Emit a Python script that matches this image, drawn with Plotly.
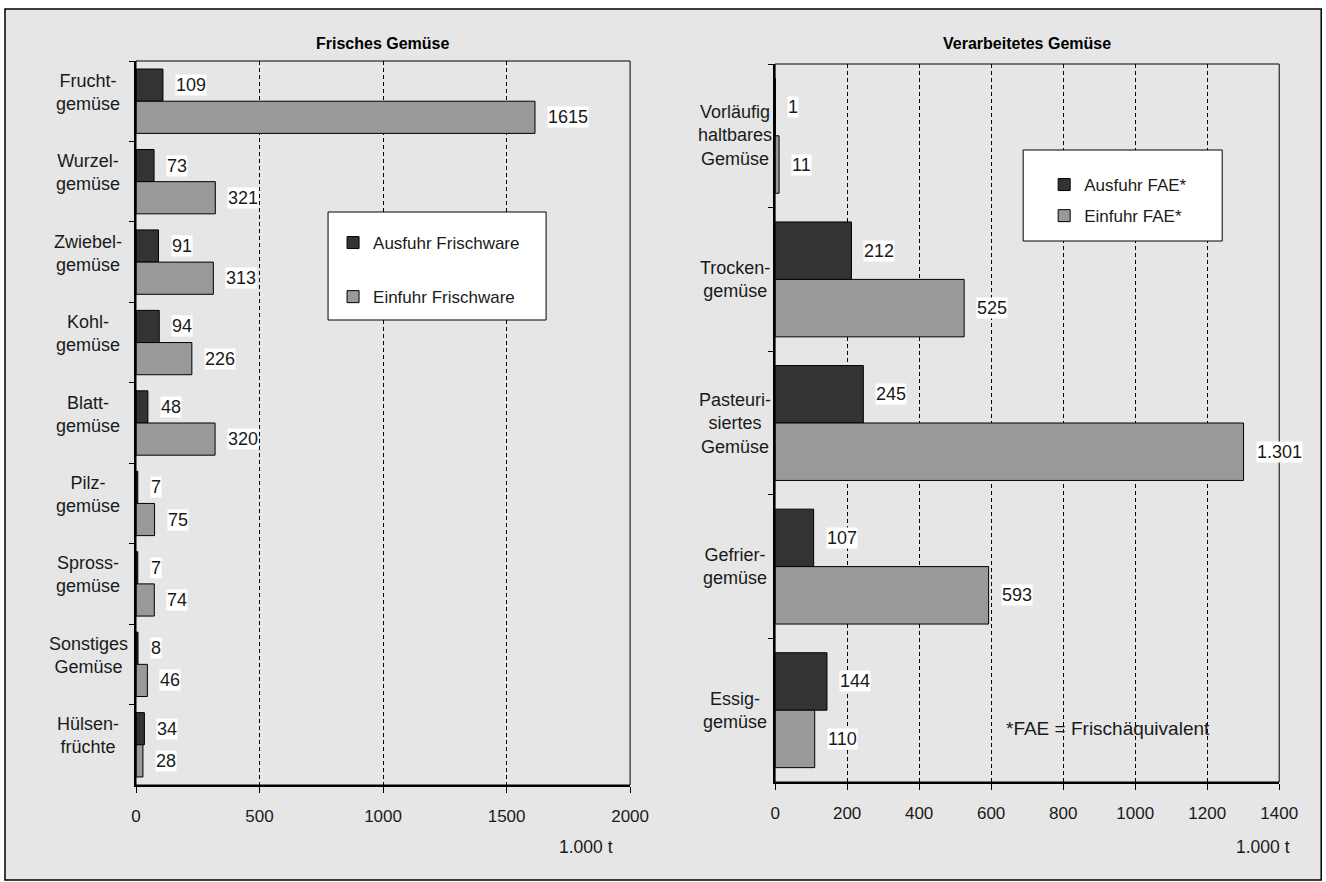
import plotly.graph_objects as go

# --- data -------------------------------------------------------------
fresh_categories = ["Fruchtgemüse", "Wurzelgemüse", "Zwiebelgemüse", "Kohlgemüse",
                    "Blattgemüse", "Pilzgemüse", "Sprossgemüse", "Sonstiges Gemüse",
                    "Hülsenfrüchte"]
fresh_labels = ["Frucht-<br>gemüse", "Wurzel-<br>gemüse", "Zwiebel-<br>gemüse", "Kohl-<br>gemüse",
                "Blatt-<br>gemüse", "Pilz-<br>gemüse", "Spross-<br>gemüse", "Sonstiges<br>Gemüse",
                "Hülsen-<br>früchte"]
fresh_export = [109, 73, 91, 94, 48, 7, 7, 8, 34]
fresh_import = [1615, 321, 313, 226, 320, 75, 74, 46, 28]

proc_categories = ["Vorläufig haltbares Gemüse", "Trockengemüse", "Pasteurisiertes Gemüse",
                   "Gefriergemüse", "Essiggemüse"]
proc_labels = ["Vorläufig<br>haltbares<br>Gemüse", "Trocken-<br>gemüse", "Pasteuri-<br>siertes<br>Gemüse",
               "Gefrier-<br>gemüse", "Essig-<br>gemüse"]
proc_export = [1, 212, 245, 107, 144]
proc_import = [11, 525, 1301, 593, 110]

fresh_ticks = [0, 500, 1000, 1500, 2000]
proc_ticks = [0, 200, 400, 600, 800, 1000, 1200, 1400]

# --- page geometry ----------------------------------------------------
FIG_W, FIG_H = 1345, 882
GUIDE_X0, GUIDE_SX = 5.0, 0.982   # horizontal layout guide -> figure pixels
FONT = "Liberation Sans, Arial, sans-serif"
DARK, LIGHT = "#333333", "#999999"
BG = "#e6e6e6"
TXT = "#1a1a1a"


def px(x):
    """Horizontal guide position -> paper fraction."""
    return (x - GUIDE_X0) / GUIDE_SX / FIG_W


def py(y):
    """Vertical pixel position (from top) -> paper fraction."""
    return 1 - y / FIG_H


fig = go.Figure()

bar_line = dict(color="black", width=1)
fig.add_trace(go.Bar(y=fresh_categories, x=fresh_export, orientation="h", name="Ausfuhr Frischware",
                     marker=dict(color=DARK, line=bar_line), xaxis="x", yaxis="y",
                     legend="legend", legendgroup="a"))
fig.add_trace(go.Bar(y=fresh_categories, x=fresh_import, orientation="h", name="Einfuhr Frischware",
                     marker=dict(color=LIGHT, line=bar_line), xaxis="x", yaxis="y",
                     legend="legend", legendgroup="b"))
fig.add_trace(go.Bar(y=proc_categories, x=proc_export, orientation="h", name="Ausfuhr FAE*",
                     marker=dict(color=DARK, line=bar_line), xaxis="x2", yaxis="y2",
                     legend="legend2", legendgroup="c"))
fig.add_trace(go.Bar(y=proc_categories, x=proc_import, orientation="h", name="Einfuhr FAE*",
                     marker=dict(color=LIGHT, line=bar_line), xaxis="x2", yaxis="y2",
                     legend="legend2", legendgroup="d"))

xaxis_common = dict(showgrid=True, gridcolor="black", gridwidth=1, griddash="4px,3px",
                    zeroline=False, showline=True, linecolor="black", linewidth=2,
                    ticks="outside", ticklen=6, tickwidth=1, tickcolor="black",
                    tickfont=dict(family=FONT, size=17, color=TXT), ticklabelstandoff=9,
                    fixedrange=True)
yaxis_common = dict(type="category", autorange=False, showgrid=False, zeroline=False,
                    showline=True, linecolor="black", linewidth=2, ticks="outside",
                    ticklen=5, tickwidth=1, tickcolor="black", tickson="boundaries",
                    showticklabels=False, fixedrange=True)

fig.update_layout(
    width=FIG_W, height=FIG_H, autosize=False, margin=dict(l=0, r=0, t=0, b=0, pad=0),
    paper_bgcolor="white", plot_bgcolor="white",
    barmode="group", bargap=0.2, bargroupgap=0,
    font=dict(family=FONT, size=17, color=TXT),
    xaxis=dict(domain=[px(136), px(630)], range=[0, 2000], tickvals=fresh_ticks,
               anchor="y", **xaxis_common),
    yaxis=dict(domain=[py(785), py(61)], range=[len(fresh_categories) - 0.5, -0.5],
               anchor="x", **yaxis_common),
    xaxis2=dict(domain=[px(775), px(1279)], range=[0, 1400], tickvals=proc_ticks,
                anchor="y2", **xaxis_common),
    yaxis2=dict(domain=[py(782), py(64)], range=[len(proc_categories) - 0.5, -0.5],
                anchor="x2", **yaxis_common),
    legend=dict(x=px(333), y=py(225), xanchor="left", yanchor="top", bgcolor="rgba(0,0,0,0)",
                borderwidth=0, font=dict(family=FONT, size=17, color=TXT),
                tracegroupgap=29, traceorder="grouped", itemclick=False, itemdoubleclick=False),
    legend2=dict(x=px(1044), y=py(167), xanchor="left", yanchor="top", bgcolor="rgba(0,0,0,0)",
                 borderwidth=0, font=dict(family=FONT, size=17, color=TXT),
                 tracegroupgap=6, traceorder="grouped", itemclick=False, itemdoubleclick=False),
)

shapes = [
    # outer panel
    dict(type="rect", xref="paper", yref="paper", x0=px(5), x1=px(1321), y0=py(880), y1=py(9),
         fillcolor=BG, line=dict(color="black", width=1.5), layer="below"),
    # plot frames (top/right borders)
    dict(type="rect", xref="x domain", yref="y domain", x0=0, x1=1, y0=0, y1=1,
         line=dict(color="black", width=1), layer="above"),
    dict(type="rect", xref="x2 domain", yref="y2 domain", x0=0, x1=1, y0=0, y1=1,
         line=dict(color="black", width=1), layer="above"),
    # legend boxes
    dict(type="rect", xref="paper", yref="paper", x0=px(328), x1=px(546), y0=py(320), y1=py(212),
         fillcolor="white", line=dict(color="black", width=1), layer="above"),
    dict(type="rect", xref="paper", yref="paper", x0=px(1023), x1=px(1222), y0=py(241), y1=py(150),
         fillcolor="white", line=dict(color="black", width=1), layer="above"),
]
fig.update_layout(shapes=shapes)

ann = []
LBL = dict(family=FONT, size=18, color=TXT)


def paper_text(text, x, y, size, color=TXT):
    return dict(text=text, xref="paper", yref="paper", x=px(x), y=py(y), xanchor="center",
                yanchor="middle", showarrow=False, font=dict(family=FONT, size=size, color=color))


# panel titles
ann.append(paper_text("<b>Frisches Gemüse</b>", 383, 43, 16, "black"))
ann.append(paper_text("<b>Verarbeitetes Gemüse</b>", 1027, 43, 16, "black"))

# unit labels
ann.append(paper_text("1.000 t", 586, 847, 17.5))
ann.append(paper_text("1.000 t", 1263, 847, 17.5))

# footnote
ann.append(paper_text("*FAE = Frischäquivalent", 1108, 728, 19))

# category labels
for cat, lab in zip(fresh_categories, fresh_labels):
    ann.append(dict(text=lab, xref="paper", yref="y", x=px(88), y=cat, showarrow=False,
                    align="center", xanchor="center", yanchor="middle", yshift=9, font=LBL))
for cat, lab in zip(proc_categories, proc_labels):
    ann.append(dict(text=lab, xref="paper", yref="y2", x=px(735), y=cat, showarrow=False,
                    align="center", xanchor="center", yanchor="middle", font=LBL))


def value_labels(exports, imports, xref, yref, fmt):
    out = []
    for i, (e, m) in enumerate(zip(exports, imports)):
        for v, off in ((e, -0.2), (m, 0.2)):
            out.append(dict(text=fmt(v), xref=xref, yref=yref, x=v, y=i + off, showarrow=False,
                            xanchor="left", yanchor="middle", xshift=12, bgcolor="white",
                            borderpad=0, font=LBL))
    return out


ann += value_labels(fresh_export, fresh_import, "x", "y", lambda v: str(v))
ann += value_labels(proc_export, proc_import, "x2", "y2", lambda v: f"{v:,}".replace(",", "."))

fig.update_layout(annotations=ann)

fig.write_html("out.html", config={"displayModeBar": False})
